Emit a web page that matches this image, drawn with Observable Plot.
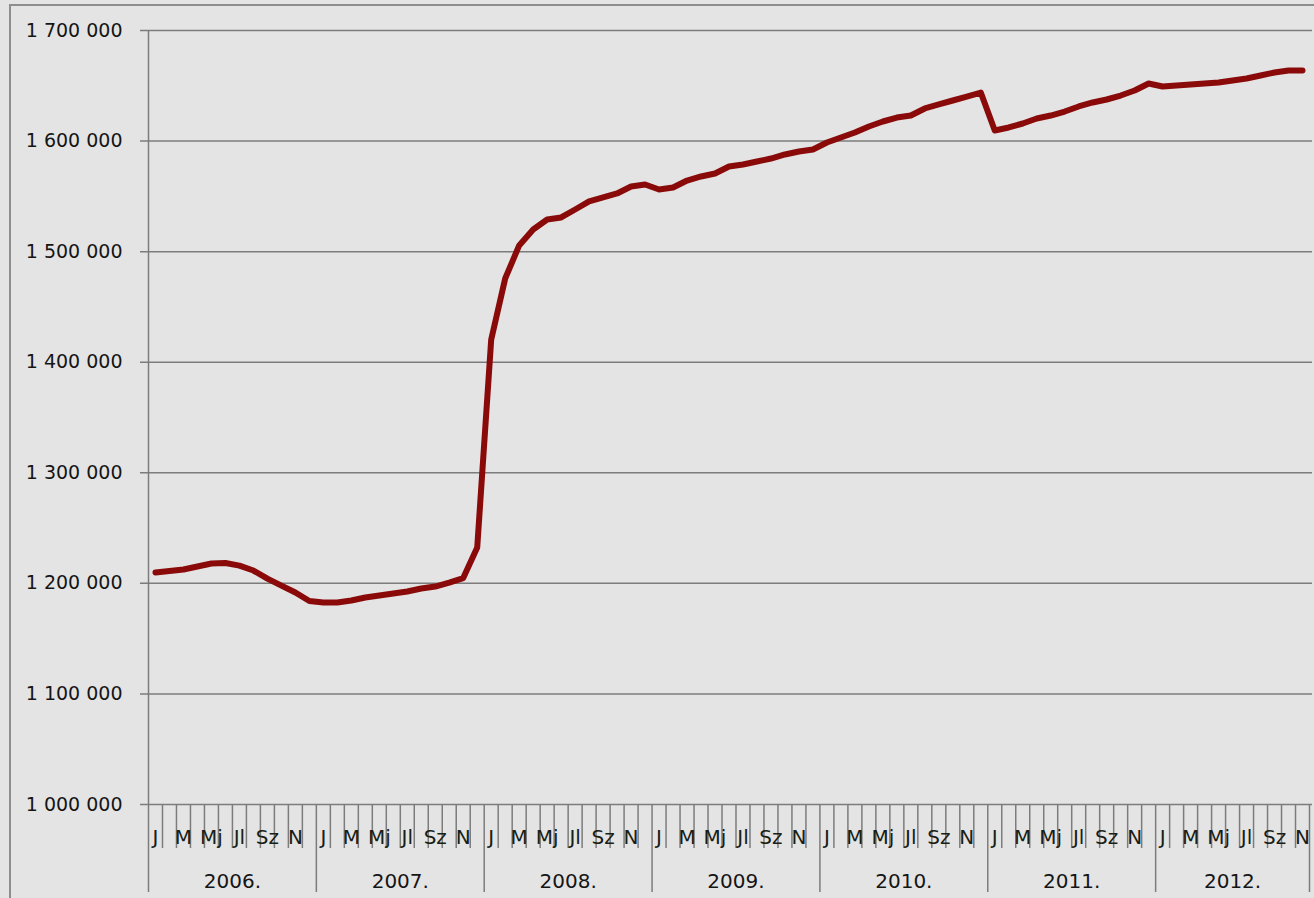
<!DOCTYPE html>
<html>
<head>
<meta charset="utf-8">
<script src="https://cdn.jsdelivr.net/npm/d3@7"></script>
<script src="https://cdn.jsdelivr.net/npm/@observablehq/plot@0.6"></script>
<style>
  html, body { margin: 0; padding: 0; background: #e4e4e4; }
  #wrap { position: relative; width: 1314px; height: 898px; overflow: hidden; background: #e4e4e4; }
  #border { position: absolute; left: 9px; top: 4px; width: 2000px; height: 2000px;
            border-left: 2px solid #8e8e8e; border-top: 2px solid #8e8e8e; }
  #chart { position: absolute; left: 0; top: 0; }
  #chart svg { background: transparent; }
</style>
</head>
<body>
<div id="wrap"><div id="border"></div><div id="chart"></div></div>
<script>
// ---- data ----
const years = ["2006.", "2007.", "2008.", "2009.", "2010.", "2011.", "2012."];
const monthLabels = ["J", "", "M", "", "Mj", "", "Jl", "", "Sz", "", "N", ""];
const v2006 = [1209800, 1211200, 1212500, 1215200, 1218000, 1218400, 1216000, 1211600, 1204300, 1198000, 1191700, 1184000];
const v2007 = [1182700, 1182700, 1184500, 1187200, 1189000, 1190800, 1192600, 1195300, 1197100, 1200700, 1204800, 1232400];
const v2008 = [1420500, 1475700, 1505600, 1520000, 1529100, 1530900, 1538100, 1545400, 1549000, 1552600, 1558900, 1560700];
const v2009 = [1556200, 1558000, 1564300, 1568000, 1570700, 1577000, 1578800, 1581500, 1584200, 1587900, 1590600, 1592400];
const v2010 = [1598700, 1603200, 1607800, 1613200, 1617700, 1621300, 1623100, 1629500, 1633100, 1636700, 1640300, 1643900];
const v2011 = [1609600, 1612300, 1615900, 1620400, 1623100, 1626700, 1631300, 1634900, 1637600, 1641200, 1645700, 1652100];
const v2012 = [1649400, 1650300, 1651200, 1652100, 1653000, 1654800, 1656600, 1659300, 1662000, 1663800, 1663800];
const yTicks = [1000000, 1100000, 1200000, 1300000, 1400000, 1500000, 1600000, 1700000];

// ---- build tables ----
const allYears = [v2006, v2007, v2008, v2009, v2010, v2011, v2012];
const series = [];
allYears.forEach((arr, yi) => arr.forEach((v, m) => series.push({i: yi * 12 + m, m, value: v})));
const n = series.length;
const monthText = series.filter(d => monthLabels[d.m] !== "").map(d => ({pos: d.i + 0.5, label: monthLabels[d.m]}));
const yearBounds = years.map((_, k) => k * 12).concat([n]);
const yearText = years.map((y, k) => ({pos: (k * 12 + Math.min(k * 12 + 12, n)) / 2, label: y}));
const monthBounds = d3.range(1, n).filter(b => b % 12 !== 0);

const fmt = d => d3.format(",")(d).replace(/,/g, " ");
const FONT = "'DejaVu Sans', sans-serif";
const GRID = "#7c7c7c";

const chart = Plot.plot({
  width: 1314,
  height: 898,
  marginLeft: 148,
  marginRight: 5,
  marginTop: 30,
  marginBottom: 94,
  style: {background: "transparent", fontFamily: FONT, color: "#151515"},
  x: {domain: [0, n], axis: null},
  y: {domain: [1000000, 1700000], axis: null},
  marks: [
    Plot.ruleY(yTicks, {stroke: GRID, strokeWidth: 1.5, insetLeft: -8, insetRight: -3}),
    Plot.ruleX([0], {stroke: GRID, strokeWidth: 1.5}),
    Plot.axisX(monthBounds, {anchor: "bottom", tickSize: 44, tickFormat: () => "", stroke: GRID, strokeWidth: 1.5, label: null}),
    Plot.axisX(yearBounds, {anchor: "bottom", tickSize: 88, tickFormat: () => "", stroke: GRID, strokeWidth: 1.5, label: null}),
    Plot.axisY(yTicks, {anchor: "left", tickSize: 0, tickPadding: 26, tickFormat: fmt, fontSize: 19, fill: "#151515", label: null}),
    Plot.text(monthText, {x: "pos", text: "label", frameAnchor: "bottom", dy: 33, lineAnchor: "middle", fontSize: 20, fill: "#162016"}),
    Plot.text(yearText, {x: "pos", text: "label", frameAnchor: "bottom", dy: 77, lineAnchor: "middle", fontSize: 20, fill: "#151515"}),
    Plot.line(series, {x: d => d.i + 0.5, y: "value", stroke: "#8a0a0a", strokeWidth: 6, strokeLinejoin: "round", strokeLinecap: "round"})
  ]
});
document.getElementById("chart").appendChild(chart);
</script>
</body>
</html>
